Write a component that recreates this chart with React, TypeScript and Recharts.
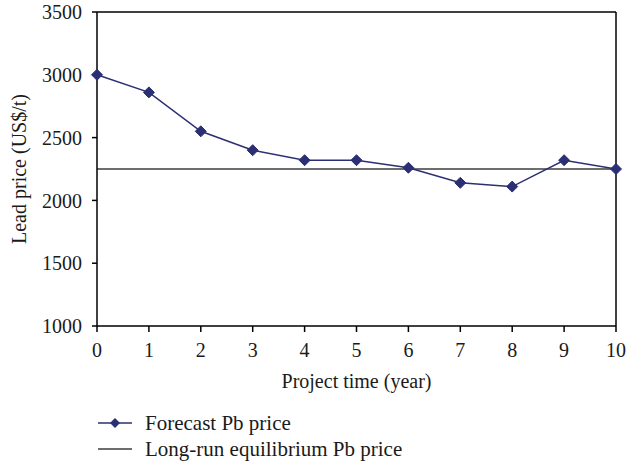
import React from 'react';
import { LineChart, Line, XAxis, YAxis, Legend, ReferenceLine } from 'recharts';

// Project years on the x axis
const years = [0, 1, 2, 3, 4, 5, 6, 7, 8, 9, 10];
// Forecast lead price (US$/t)
const forecastPrice = [3000, 2860, 2550, 2400, 2320, 2320, 2260, 2140, 2110, 2320, 2250];
// Long-run equilibrium lead price (US$/t)
const equilibriumPrice = [2250, 2250, 2250, 2250, 2250, 2250, 2250, 2250, 2250, 2250, 2250];
const yTicks = [1000, 1500, 2000, 2500, 3000, 3500];

const data = years.map((year, i) => ({
  year,
  forecast: forecastPrice[i],
  equilibrium: equilibriumPrice[i],
}));

const FONT = '"Liberation Serif", "DejaVu Serif", serif';
const NAVY = '#2b2f73';
const GREY = '#3d3d3d';

const Diamond = (props: any) => {
  const { cx, cy } = props;
  if (cx == null || cy == null) return null;
  const r = 5.5;
  return (
    <polygon
      points={`${cx},${cy - r} ${cx + r},${cy} ${cx},${cy + r} ${cx - r},${cy}`}
      fill={NAVY}
      stroke={NAVY}
    />
  );
};

const renderLegend = () => (
  <div style={{ height: 60, fontFamily: FONT, fontSize: 21, color: '#1a1a1a' }}>
    <div style={{ display: 'flex', alignItems: 'center', height: 26 }}>
      <svg width={36} height={14} style={{ marginLeft: 97, marginRight: 12 }}>
        <line x1={1} y1={7} x2={35} y2={7} stroke={NAVY} strokeWidth={1.5} />
        <polygon points="18,2 23,7 18,12 13,7" fill={NAVY} />
      </svg>
      <span>Forecast Pb price</span>
    </div>
    <div style={{ display: 'flex', alignItems: 'center', height: 26 }}>
      <svg width={36} height={14} style={{ marginLeft: 97, marginRight: 12 }}>
        <line x1={1} y1={7} x2={35} y2={7} stroke={GREY} strokeWidth={1.5} />
      </svg>
      <span>Long-run equilibrium Pb price</span>
    </div>
  </div>
);

export default function App() {
  return (
    <div style={{ position: 'absolute', left: 0, top: 0, background: '#fff' }}>
      <LineChart width={626} height={466} data={data} margin={{ top: 12, right: 10, left: 0, bottom: 10 }}>
        <XAxis
          dataKey="year"
          type="number"
          domain={[0, 10]}
          ticks={years}
          interval={0}
          height={70}
          stroke="#000"
          strokeWidth={1.5}
          tickSize={6}
          tickMargin={11}
          tick={{ fill: '#1a1a1a', fontSize: 20, fontFamily: FONT }}
          label={{ value: 'Project time (year)', position: 'insideBottom', offset: 8, fill: '#1a1a1a', fontSize: 20, fontFamily: FONT }}
        />
        <YAxis
          type="number"
          domain={[1000, 3500]}
          ticks={yTicks}
          interval={0}
          width={97}
          stroke="#000"
          strokeWidth={1.5}
          tickSize={5}
          tickMargin={10}
          tick={{ fill: '#1a1a1a', fontSize: 20, fontFamily: FONT }}
          label={{ value: 'Lead price (US$/t)', angle: -90, position: 'center', dx: -30, fill: '#1a1a1a', fontSize: 20, fontFamily: FONT }}
        />
        <ReferenceLine y={3500} stroke="#000" strokeWidth={1.5} />
        <ReferenceLine x={10} stroke="#000" strokeWidth={1.5} />
        <Legend
          verticalAlign="bottom"
          content={renderLegend}
          wrapperStyle={{ left: 0, top: 410, width: 626 }}
        />
        <Line
          dataKey="equilibrium"
          stroke={GREY}
          strokeWidth={1.5}
          dot={false}
          activeDot={false}
          isAnimationActive={false}
        />
        <Line
          dataKey="forecast"
          stroke={NAVY}
          strokeWidth={1.5}
          dot={<Diamond />}
          activeDot={false}
          isAnimationActive={false}
        />
      </LineChart>
    </div>
  );
}
